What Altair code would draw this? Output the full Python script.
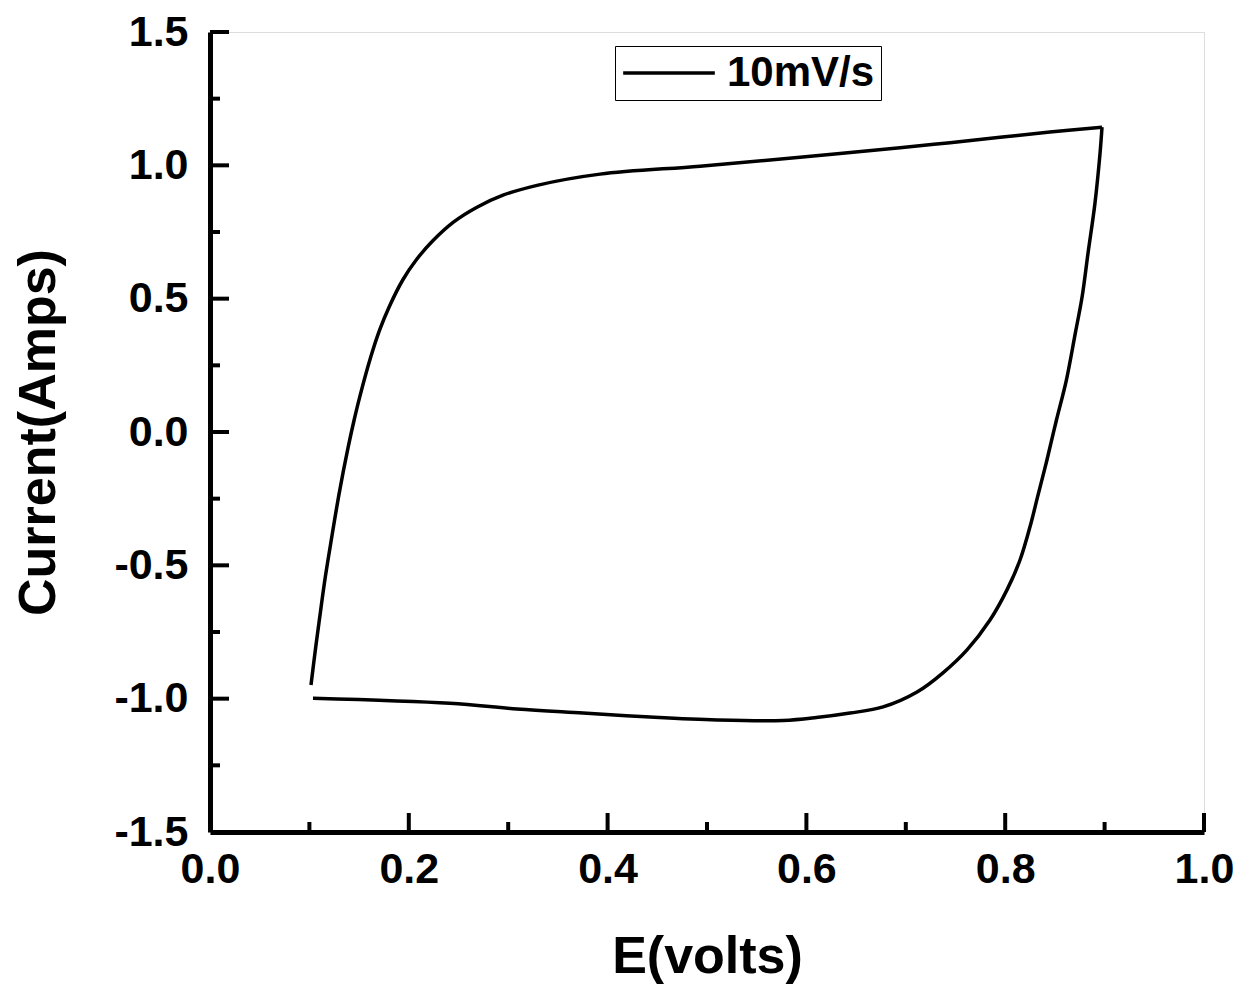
import altair as alt
import pandas as pd

# Cyclic voltammogram at 10 mV/s: forward (anodic) sweep, then reverse sweep
fwd_E = [0.1016, 0.1056, 0.1100, 0.1160, 0.1225, 0.1300, 0.1390, 0.1450, 0.1506,
         0.1617, 0.1706, 0.1801, 0.1939, 0.2074, 0.2244, 0.2449, 0.2686, 0.2948,
         0.3290, 0.3924, 0.4930, 0.5936, 0.6942, 0.7445, 0.7948, 0.8450, 0.8974]
fwd_I = [-0.949, -0.829, -0.705, -0.544, -0.394, -0.229, -0.057, 0.045, 0.131,
         0.281, 0.382, 0.468, 0.570, 0.645, 0.718, 0.787, 0.843, 0.888,
         0.925, 0.967, 0.997, 1.030, 1.066, 1.085, 1.105, 1.125, 1.143]

rev_E = [0.8974, 0.8954, 0.8903, 0.8833, 0.8773, 0.8705, 0.8615, 0.8515, 0.8420, 0.8325,
         0.8260, 0.8149, 0.8018, 0.7847, 0.7616, 0.7374, 0.7113, 0.6771, 0.6439,
         0.6100, 0.5765, 0.5101, 0.4427, 0.3753, 0.3089, 0.2414, 0.1036]
rev_I = [1.143, 1.045, 0.858, 0.670, 0.505, 0.370, 0.194, 0.044, -0.105, -0.244,
         -0.341, -0.480, -0.592, -0.705, -0.817, -0.903, -0.975, -1.031, -1.054,
         -1.071, -1.082, -1.080, -1.069, -1.054, -1.039, -1.017, -0.998]

series_name = "10mV/s"

x_major = [0.2, 0.4, 0.6, 0.8, 1.0]
x_minor = [0.1, 0.3, 0.5, 0.7, 0.9]
y_major = [-1.0, -0.5, 0.0, 0.5, 1.0, 1.5]
y_minor = [-1.25, -0.75, -0.25, 0.25, 0.75, 1.25]

W, H = 994, 800
FONT = "Liberation Sans"

cv = pd.DataFrame({
    "E": fwd_E + rev_E,
    "I": fwd_I + rev_I,
    "step": list(range(len(fwd_E))) + list(range(len(rev_E))),
    "sweep": ["forward"] * len(fwd_E) + ["reverse"] * len(rev_E),
    "series": [series_name] * (len(fwd_E) + len(rev_E)),
})

x_scale = alt.Scale(domain=[0.0, 1.0], nice=False, zero=False)
y_scale = alt.Scale(domain=[-1.5, 1.5], nice=False, zero=False)

x_axis = alt.Axis(
    values=[0.0, 0.2, 0.4, 0.6, 0.8, 1.0], format=".1f", grid=False,
    ticks=False, tickSize=0, domainColor="black", domainWidth=5,
    labelFont=FONT, labelFontSize=43, labelFontWeight="bold", labelColor="black",
    labelPadding=16, labelFlush=False,
    title="E(volts)", titleFont=FONT, titleFontSize=52, titleFontWeight="bold",
    titleColor="black", titleY=140, titleBaseline="alphabetic",
)
y_axis = alt.Axis(
    values=[-1.5, -1.0, -0.5, 0.0, 0.5, 1.0, 1.5], format=".1f", grid=False,
    ticks=False, tickSize=0, domainColor="black", domainWidth=5,
    labelFont=FONT, labelFontSize=43, labelFontWeight="bold", labelColor="black",
    labelPadding=22, labelFlush=False,
    labelExpr="replace(datum.label, '\u2212', '-')",
    title="Current(Amps)", titleFont=FONT, titleFontSize=52, titleFontWeight="bold",
    titleColor="black", titleX=-156, titleY=H / 2, titleAngle=270,
    titleBaseline="alphabetic", titleAlign="center",
)

curve = alt.Chart(cv).mark_line(
    strokeWidth=3.5, color="black", interpolate="catmull-rom"
).encode(
    x=alt.X("E:Q", scale=x_scale, axis=x_axis),
    y=alt.Y("I:Q", scale=y_scale, axis=y_axis),
    order="step:Q",
    detail="sweep:N",
    color=alt.Color(
        "series:N",
        scale=alt.Scale(range=["black"]),
        legend=alt.Legend(
            title=None, orient="none", legendX=405, legendY=14,
            symbolType="stroke", symbolSize=8400, symbolStrokeWidth=3.5,
            clipHeight=42,
            labelFont=FONT, labelFontSize=42, labelFontWeight="bold",
            labelColor="black", labelOffset=10, padding=6,
            strokeColor="black",
        ),
    ),
)

# inward-pointing tick marks
def x_ticks(vals, length):
    return alt.Chart(pd.DataFrame({"v": vals})).mark_rule(
        color="black", strokeWidth=4
    ).encode(x=alt.X("v:Q", scale=x_scale), y=alt.value(H), y2=alt.value(H - length))

def y_ticks(vals, length):
    return alt.Chart(pd.DataFrame({"v": vals})).mark_rule(
        color="black", strokeWidth=4
    ).encode(y=alt.Y("v:Q", scale=y_scale), x=alt.value(0), x2=alt.value(length))

chart = alt.layer(
    curve,
    x_ticks(x_major, 19), x_ticks(x_minor, 10),
    y_ticks(y_major, 19), y_ticks(y_minor, 10),
).properties(
    width=W, height=H,
    padding={"left": 210, "top": 32, "right": 33, "bottom": 154},
    autosize=alt.AutoSizeParams(type="none"),
).configure_view(
    stroke=None
).configure_legend(
    strokeWidth=3
).configure(background="white")

chart.save("out.html", embed_options={"renderer": "svg", "actions": False})
